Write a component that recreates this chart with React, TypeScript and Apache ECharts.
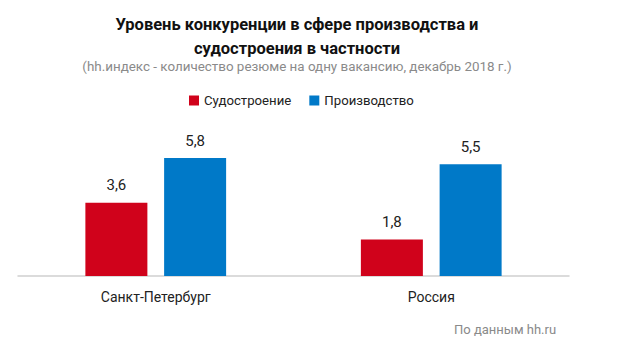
import React, { useEffect, useRef } from "react";
import * as echarts from "echarts";

const categories = ["Санкт-Петербург", "Россия"];
const shipbuilding = [3.6, 1.8];
const production = [5.8, 5.5];
const seriesNames = ["Судостроение", "Производство"];

const FONT = "Roboto, 'Noto Sans', sans-serif";

export default function App() {
  const ref = useRef<HTMLDivElement>(null);
  useEffect(() => {
    const chart = echarts.init(ref.current!, undefined, { renderer: "svg" });
    const label = {
      show: true,
      position: "top" as const,
      distance: 10,
      color: "#222",
      fontSize: 15,
      fontFamily: FONT,
      formatter: (p: any) => String(p.value).replace(".", ","),
    };
    chart.setOption({
      animation: false,
      backgroundColor: "#fff",
      title: [
        {
          text: "Уровень конкуренции в сфере производства и\nсудостроения в частности",
          left: 292,
          textAlign: "center",
          top: 7,
          textStyle: {
            fontFamily: FONT,
            fontWeight: "bold",
            fontSize: 16.5,
            lineHeight: 24,
            color: "#111",
          },
        },
        {
          text: "(hh.индекс - количество резюме на одну вакансию, декабрь 2018 г.)",
          left: 292,
          textAlign: "center",
          top: 55,
          textStyle: { fontFamily: FONT, fontWeight: "normal", fontSize: 13.4, color: "#8a8a8a" },
        },
        {
          text: "По данным hh.ru",
          left: 449,
          top: 318,
          textStyle: { fontFamily: FONT, fontWeight: "normal", fontSize: 13, color: "#8a8a8a" },
        },
      ],
      legend: {
        data: seriesNames,
        left: 184,
        top: 89,
        itemWidth: 10,
        itemHeight: 10,
        itemGap: 18,
        icon: "rect",
        textStyle: { fontFamily: FONT, fontSize: 13.2, color: "#222" },
      },
      grid: { left: 18, right: 58, top: 154, bottom: 80 },
      xAxis: {
        type: "category",
        data: categories,
        axisLine: { lineStyle: { color: "#cfcfcf", width: 1.5 } },
        axisTick: { show: false },
        axisLabel: { fontFamily: FONT, fontSize: 14, color: "#222", margin: 14 },
      },
      yAxis: {
        type: "value",
        min: 0,
        max: 6,
        show: false,
        splitLine: { show: false },
      },
      series: [
        {
          name: seriesNames[0],
          type: "bar",
          data: shipbuilding,
          barWidth: 62,
          barGap: "27%",
          itemStyle: { color: "#D0021B" },
          label,
        },
        {
          name: seriesNames[1],
          type: "bar",
          data: production,
          barWidth: 62,
          itemStyle: { color: "#0079C8" },
          label,
        },
      ],
    });
    return () => chart.dispose();
  }, []);
  return <div ref={ref} style={{ width: 627, height: 356, position: "absolute", left: 0, top: 0 }} />;
}
